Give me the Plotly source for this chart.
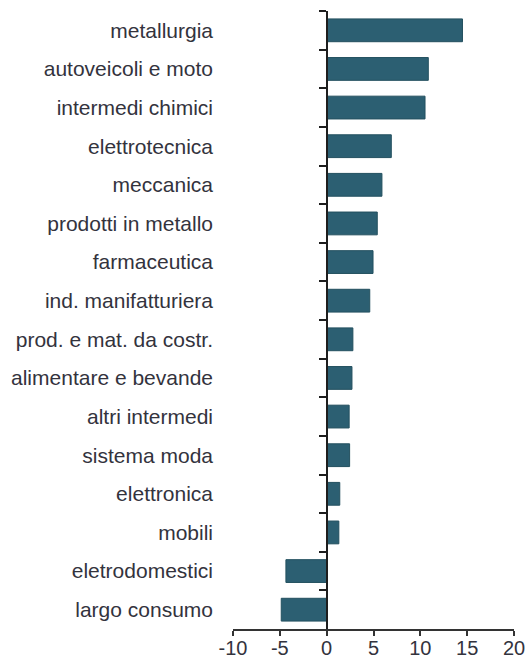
import plotly.graph_objects as go

categories = [
    "metallurgia", "autoveicoli e moto", "intermedi chimici", "elettrotecnica",
    "meccanica", "prodotti in metallo", "farmaceutica", "ind. manifatturiera",
    "prod. e mat. da costr.", "alimentare e bevande", "altri intermedi",
    "sistema moda", "elettronica", "mobili", "eletrodomestici", "largo consumo",
]
values = [14.5, 10.85, 10.5, 6.9, 5.9, 5.4, 4.95, 4.6, 2.8, 2.7, 2.4, 2.45, 1.4, 1.3, -4.35, -4.85]
x_ticks = [-10, -5, 0, 5, 10, 15, 20]
x_range = [-10, 20]

FONT = "Liberation Sans, Arial, sans-serif"
TXT = "#33333d"

fig = go.Figure()
fig.add_trace(go.Bar(
    x=values, y=categories, orientation="h",
    marker=dict(color="#2c5f72", line=dict(color="#23505f", width=1)),
    yaxis="y", showlegend=False,
))
# invisible helper on the zero-line axis
fig.add_trace(go.Scatter(
    x=[0] * len(categories), y=categories, mode="markers",
    marker=dict(opacity=0), yaxis="y2", showlegend=False, hoverinfo="skip",
))

zero_pos = (0 - x_range[0]) / (x_range[1] - x_range[0])
y_range = [len(categories) - 0.5, -0.5]

fig.update_layout(
    template="none",
    width=528, height=665,
    margin=dict(l=233, r=14, t=11, b=36, pad=0),
    paper_bgcolor="white", plot_bgcolor="white",
    bargap=0.41,
    font=dict(family=FONT, size=21, color=TXT),
    xaxis=dict(
        range=x_range, tickvals=x_ticks, ticktext=[str(t) for t in x_ticks],
        showgrid=False, zeroline=False, showline=True, linecolor="#333333",
        linewidth=1.5, ticks="outside", ticklen=5, tickwidth=1.5, tickcolor="#333333",
        tickfont=dict(family=FONT, size=20, color=TXT), automargin=False,
        ticklabelstandoff=-5,
    ),
    yaxis=dict(
        type="category", categoryorder="array", categoryarray=categories,
        range=y_range, autorange=False, showgrid=False, zeroline=False, showline=False,
        ticks="", ticklabelstandoff=19, automargin=False,
        tickfont=dict(family=FONT, size=21, color=TXT),
    ),
    yaxis2=dict(
        type="category", categoryorder="array", categoryarray=categories,
        matches="y", overlaying="y", anchor="free", position=zero_pos,
        range=y_range, autorange=False,
        showgrid=False, zeroline=False, showline=True, linecolor="#1e1e1e", linewidth=2,
        ticks="outside", tickson="boundaries", ticklen=7, tickwidth=1.5,
        tickcolor="#1e1e1e", showticklabels=False, automargin=False,
    ),
)

fig.write_html(
    "out.html",
    config={"displayModeBar": False},
    post_script="document.body.style.margin='0';document.body.style.padding='0';",
)
